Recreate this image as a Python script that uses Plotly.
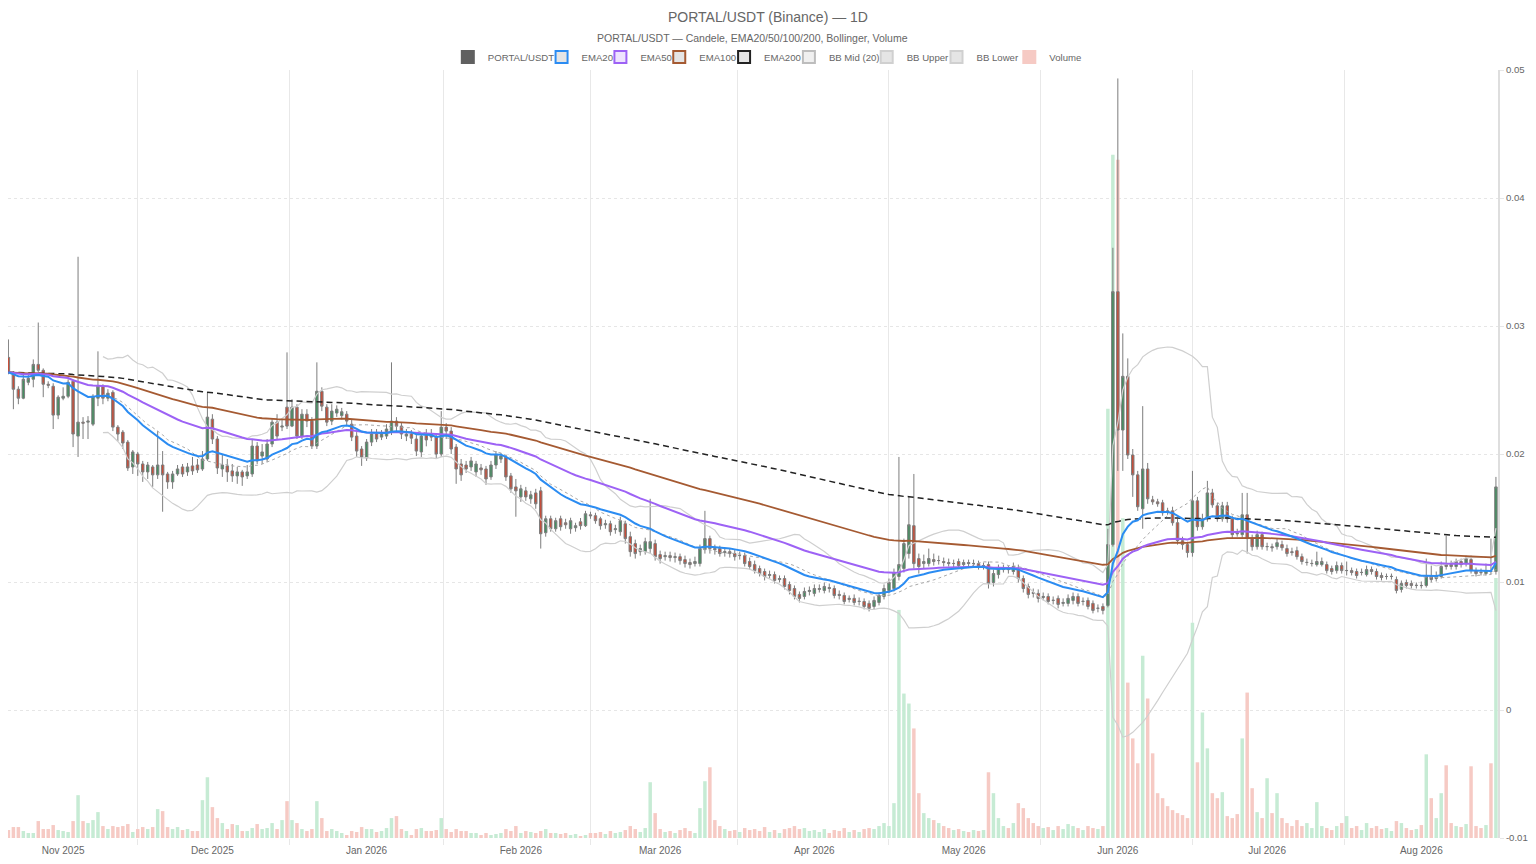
import pandas as pd
import plotly.graph_objects as go

# ---------------- data ----------------
start_date = "2025-10-21"

opens = [.02755,.02638,.02506,.02436,.02560,.02584,.02700,.02654,.02545,.02529,
.02304,.02436,.02451,.02568,.02140,.02249,.02249,.02233,.02436,.02529,
.02436,.02482,.02210,.02171,.02093,.01899,.02000,.01922,.01860,.01899,
.01837,.01914,.01844,.01782,.01844,.01899,.01860,.01907,.01914,.01883,
.01961,.02272,.02117,.01883,.01907,.01868,.01829,.01860,.01829,.01844,
.02062,.01984,.01961,.02078,.02249,.02210,.02366,.02218,.02366,.02140,
.02311,.02257,.02062,.02490,.02366,.02257,.02320,.02300,.02311,.02233,
.02140,.02039,.01969,.02093,.02156,.02132,.02140,.02171,.02257,.02218,
.02140,.02156,.02117,.02016,.02156,.02156,.02132,.02000,.02210,.02179,
.02054,.01922,.01914,.01899,.01860,.01891,.01883,.01821,.01914,.01960,
.01975,.01829,.01743,.01665,.01712,.01650,.01696,.01712,.01385,.01494,
.01416,.01494,.01463,.01416,.01424,.01470,.01440,.01525,.01518,.01494,
.01447,.01455,.01409,.01393,.01455,.01354,.01300,.01237,.01237,.01261,
.01300,.01214,.01198,.01206,.01191,.01198,.01175,.01152,.01144,.01144,
.01253,.01339,.01261,.01261,.01230,.01237,.01222,.01206,.01206,.01160,
.01136,.01105,.01082,.01051,.01058,.01019,.01027,.00981,.00949,.00903,
.00887,.00926,.00911,.00942,.00934,.00957,.00949,.00903,.00895,.00864,
.00872,.00848,.00848,.00833,.00809,.00840,.00887,.00934,.00949,.01043,
.01105,.01222,.01440,.01183,.01144,.01144,.01175,.01167,.01160,.01152,
.01144,.01160,.01136,.01152,.01144,.01144,.01121,.01136,.00996,.01058,
.01097,.01105,.01082,.01105,.01027,.00965,.00918,.00911,.00879,.00887,
.00856,.00872,.00833,.00833,.00856,.00887,.00848,.00856,.00833,.00794,
.00809,.00817,.01292,.03268,.02187,.02607,.01992,.01837,.01572,.01883,
.01642,.01626,.01619,.01556,.01556,.01463,.01323,.01292,.01230,.01634,
.01432,.01494,.01696,.01595,.01494,.01595,.01494,.01385,.01370,.01525,
.01339,.01276,.01370,.01276,.01276,.01276,.01292,.01261,.01237,.01245,
.01198,.01152,.01144,.01136,.01136,.01136,.01105,.01089,.01128,.01089,
.01089,.01082,.01074,.01058,.01097,.01082,.01051,.01043,.01043,.01019,
.00942,.00996,.00988,.00973,.00973,.00973,.01043,.01027,.01043,.01136,
.01136,.01121,.01160,.01144,.01175,.01089,.01074,.01066,.01083,.01082]

closes = [.02638,.02506,.02436,.02584,.02591,.02700,.02654,.02545,.02537,.02304,
.02444,.02451,.02560,.02156,.02249,.02241,.02257,.02451,.02529,.02436,
.02475,.02210,.02156,.02086,.01891,.02016,.01922,.01860,.01914,.01837,
.01914,.01837,.01782,.01844,.01883,.01844,.01899,.01868,.01876,.01961,
.02288,.02117,.01891,.01914,.01860,.01829,.01860,.01821,.01860,.02062,
.01946,.02016,.02078,.02249,.02140,.02218,.02218,.02366,.02140,.02311,
.02257,.02062,.02490,.02374,.02249,.02335,.02350,.02330,.02257,.02132,
.02023,.01977,.02093,.02156,.02117,.02156,.02195,.02257,.02218,.02156,
.02156,.02124,.02023,.02140,.02110,.02132,.02000,.02210,.02179,.02039,
.01883,.01837,.01883,.01946,.01922,.01876,.01805,.01914,.01992,.01984,
.01821,.01728,.01712,.01728,.01665,.01681,.01611,.01377,.01494,.01416,
.01479,.01432,.01447,.01479,.01440,.01440,.01533,.01518,.01479,.01440,
.01455,.01393,.01416,.01479,.01339,.01237,.01222,.01261,.01315,.01315,
.01198,.01183,.01206,.01191,.01198,.01167,.01144,.01136,.01160,.01261,
.01339,.01261,.01253,.01222,.01237,.01222,.01198,.01207,.01144,.01121,
.01089,.01066,.01043,.01058,.01012,.01027,.00965,.00934,.00887,.00872,
.00926,.00934,.00949,.00949,.00965,.00949,.00895,.00895,.00848,.00872,
.00840,.00849,.00809,.00794,.00856,.00895,.00949,.00996,.01074,.01136,
.01300,.01447,.01144,.01121,.01160,.01183,.01160,.01168,.01152,.01144,
.01145,.01128,.01152,.01144,.01145,.01121,.01128,.00988,.01066,.01105,
.01105,.01097,.01121,.01027,.00949,.00903,.00911,.00872,.00887,.00848,
.00857,.00825,.00840,.00872,.00887,.00833,.00849,.00809,.00778,.00795,
.00778,.01292,.03268,.02187,.02607,.01992,.01837,.01588,.01883,.01650,
.01626,.01611,.01541,.01549,.01463,.01323,.01292,.01230,.01634,.01432,
.01494,.01696,.01603,.01494,.01595,.01494,.01370,.01377,.01525,.01339,
.01276,.01370,.01276,.01277,.01268,.01307,.01268,.01222,.01230,.01198,
.01160,.01153,.01145,.01160,.01160,.01089,.01082,.01128,.01089,.01090,
.01074,.01051,.01075,.01097,.01082,.01043,.01035,.01043,.01044,.00934,
.00988,.00973,.00973,.00974,.00972,.01043,.01019,.01051,.01121,.01121,
.01121,.01160,.01136,.01183,.01089,.01066,.01073,.01089,.01082,.01743]

highs = [.02895,.02646,.02529,.02623,.02638,.02739,.03027,.02669,.02568,.02553,
.02459,.02521,.02584,.02584,.03541,.02288,.02296,.02467,.02802,.02545,
.02506,.02498,.02226,.02187,.02109,.02031,.02016,.01946,.01938,.01914,
.02179,.02023,.01860,.01868,.01914,.01922,.01930,.01977,.01961,.02023,
.02482,.02311,.02140,.02000,.01961,.01922,.01899,.01876,.01914,.02117,
.02093,.02078,.02117,.02272,.02311,.02272,.02794,.02428,.02389,.02350,
.02350,.02288,.02716,.02521,.02389,.02389,.02380,.02360,.02335,.02272,
.02171,.02062,.02117,.02195,.02195,.02187,.02233,.02716,.02288,.02249,
.02195,.02187,.02148,.02160,.02195,.02195,.02156,.02335,.02241,.02210,
.02078,.01961,.01946,.01977,.01946,.01922,.01907,.01946,.02023,.02008,
.01990,.01852,.01805,.01759,.01743,.01712,.01728,.01743,.01518,.01518,
.01502,.01518,.01494,.01502,.01463,.01500,.01556,.01549,.01541,.01510,
.01486,.01479,.01447,.01510,.01479,.01393,.01331,.01292,.01346,.01650,
.01331,.01245,.01237,.01237,.01230,.01222,.01206,.01183,.01198,.01292,
.01556,.01362,.01292,.01284,.01268,.01261,.01253,.01237,.01230,.01191,
.01167,.01128,.01105,.01089,.01082,.01051,.01051,.01004,.00973,.00926,
.00957,.00965,.00981,.00981,.00996,.00988,.00973,.00934,.00918,.00895,
.00903,.00879,.00872,.00856,.00887,.00918,.00981,.01027,.01105,.01977,
.01339,.01665,.01844,.01222,.01214,.01261,.01222,.01206,.01191,.01183,
.01175,.01183,.01175,.01175,.01175,.01167,.01152,.01160,.01097,.01136,
.01136,.01128,.01152,.01136,.01051,.00988,.00949,.00942,.00918,.00911,
.00887,.00895,.00872,.00903,.00918,.00911,.00879,.00879,.00856,.00825,
.00833,.01416,.03611,.04934,.02942,.02747,.02039,.01868,.02374,.01930,
.01673,.01650,.01642,.01580,.01588,.01494,.01354,.01315,.01868,.01665,
.01533,.01790,.01728,.01619,.01626,.01626,.01518,.01416,.01696,.01696,
.01370,.01401,.01393,.01307,.01300,.01339,.01323,.01292,.01268,.01276,
.01222,.01183,.01175,.01237,.01191,.01160,.01128,.01160,.01152,.01160,
.01113,.01105,.01105,.01128,.01121,.01105,.01074,.01066,.01066,.01043,
.01012,.01019,.01012,.00996,.01004,.01183,.01128,.01082,.01160,.01362,
.01167,.01183,.01183,.01206,.01206,.01113,.01105,.01144,.01339,.01821]

lows = [.02623,.02350,.02389,.02428,.02537,.02521,.02638,.02444,.02514,.02195,
.02272,.02420,.02436,.02054,.01977,.02117,.02117,.02218,.02374,.02389,
.02412,.02179,.02101,.02039,.01868,.01844,.01829,.01782,.01805,.01743,
.01805,.01549,.01728,.01728,.01829,.01821,.01829,.01837,.01852,.01868,
.01946,.02078,.01844,.01821,.01782,.01782,.01767,.01751,.01805,.01821,
.01922,.01922,.01938,.02054,.02117,.02179,.02195,.02210,.02117,.02117,
.02210,.02039,.02039,.02335,.02218,.02226,.02290,.02270,.02218,.02101,
.01977,.01907,.01946,.02062,.02093,.02109,.02117,.02148,.02179,.02117,
.02101,.02078,.01984,.01977,.02060,.02101,.01961,.01977,.02117,.02000,
.01767,.01790,.01852,.01868,.01821,.01837,.01759,.01798,.01883,.01930,
.01790,.01697,.01510,.01626,.01634,.01611,.01572,.01261,.01354,.01393,
.01393,.01401,.01416,.01377,.01393,.01409,.01430,.01494,.01455,.01409,
.01416,.01362,.01377,.01362,.01300,.01198,.01183,.01206,.01214,.01222,
.01167,.01144,.01167,.01160,.01152,.01136,.01113,.01105,.01121,.01121,
.01222,.01222,.01214,.01198,.01198,.01191,.01167,.01175,.01121,.01097,
.01066,.01043,.01012,.01027,.00988,.00996,.00942,.00903,.00864,.00840,
.00864,.00895,.00887,.00918,.00911,.00918,.00872,.00864,.00825,.00840,
.00817,.00817,.00786,.00770,.00786,.00817,.00864,.00911,.00926,.01012,
.01074,.01183,.01105,.01066,.01105,.01121,.01128,.01136,.01121,.01121,
.01113,.01105,.01121,.01113,.01113,.01097,.01097,.00949,.00965,.01027,
.01074,.01066,.01058,.00996,.00918,.00872,.00879,.00840,.00856,.00825,
.00825,.00794,.00809,.00809,.00825,.00809,.00817,.00786,.00755,.00763,
.00747,.00802,.01276,.01868,.01868,.01961,.01665,.01556,.01416,.01611,
.01603,.01588,.01518,.01525,.01440,.01292,.01253,.01191,.01198,.01401,
.01409,.01471,.01580,.01471,.01471,.01463,.01339,.01354,.01346,.01222,
.01245,.01253,.01253,.01245,.01237,.01253,.01245,.01198,.01206,.01175,
.01136,.01128,.01121,.01121,.01121,.01066,.01058,.01066,.01066,.01051,
.01051,.01027,.01051,.01043,.01058,.01019,.01012,.01019,.01019,.00911,
.00918,.00949,.00949,.00949,.00949,.00957,.00996,.01004,.01027,.01097,
.01097,.01097,.01113,.01121,.01066,.01043,.01051,.01051,.01058,.01058]

# relative volume (arbitrary units)
volumes = [8,11,11,7,5,5,17,9,9,13,
8,7,6,17,43,17,15,18,26,12,
9,12,11,12,14,6,9,11,9,11,
29,27,11,9,11,8,9,7,7,38,
61,31,20,15,9,14,13,7,7,10,
14,9,10,15,9,18,37,18,15,9,
7,9,37,20,7,9,7,5,3,7,
6,11,9,9,6,7,10,20,22,9,
7,3,9,10,7,7,8,20,9,6,
9,7,7,5,5,3,5,3,4,5,
9,7,12,5,7,6,5,7,9,5,
5,4,5,3,4,2,3,5,5,6,
4,7,5,6,8,12,9,6,10,56,
25,9,6,7,5,8,10,7,5,30,
57,71,18,12,9,7,8,6,10,8,
9,7,11,6,8,5,9,10,12,9,
10,7,8,6,9,5,8,7,10,6,
8,6,9,10,9,12,15,12,35,229,
145,135,110,45,25,20,18,15,12,10,
8,9,7,6,8,7,8,66,45,20,
12,10,15,35,30,20,15,12,10,11,
8,12,9,14,12,10,8,12,10,9,
12,431,686,681,321,156,100,75,183,140,
85,45,40,32,28,25,23,20,216,76,
126,90,45,40,46,22,20,24,100,146,
50,26,20,60,25,45,20,15,12,18,
12,15,10,36,12,10,8,12,15,22,
10,12,8,15,10,12,9,10,7,17,
15,10,8,9,13,84,40,20,45,73,
15,12,11,14,72,12,10,13,75,261]

month_ticks = ["2025-11-01", "2025-12-01", "2026-01-01", "2026-02-01", "2026-03-01",
               "2026-04-01", "2026-05-01", "2026-06-01", "2026-07-01", "2026-08-01"]
month_labels = ["Nov 2025", "Dec 2025", "Jan 2026", "Feb 2026", "Mar 2026",
                "Apr 2026", "May 2026", "Jun 2026", "Jul 2026", "Aug 2026"]
price_ticks = [-0.01, 0, 0.01, 0.02, 0.03, 0.04, 0.05]
price_labels = ["-0.01", "0", "0.01", "0.02", "0.03", "0.04", "0.05"]

# ---------------- indicators ----------------
dates = pd.date_range(start_date, periods=len(closes), freq="D")
cs = pd.Series(closes, index=dates)
ema = {n: cs.ewm(span=n, adjust=False).mean() for n in (20, 50, 100, 200)}
bb_mid = cs.rolling(20).mean()
bb_sd = cs.rolling(20).std(ddof=0)
bb_up = bb_mid + 2 * bb_sd
bb_lo = bb_mid - 2 * bb_sd

# grid lines sit between month labels (offset grid)
mstarts = pd.date_range("2025-10-01", "2026-09-01", freq="MS")
grid_mid = [mstarts[i] + (mstarts[i + 1] - mstarts[i]) / 2 for i in range(len(mstarts) - 1)]

x_range = [dates[0] - pd.Timedelta(hours=2), dates[-1] + pd.Timedelta(hours=10)]

# ---------------- figure geometry ----------------
# the page body keeps its default 8px margin, so the figure is sized to fit
# inside the 1536x864 window without overflow; OFF converts page px to figure px
OFF = 8
W, H = 1536 - 2 * OFF, 864 - 2 * OFF
ML, MR, MT, MB = 0, 26, 62, 15
PW = W - ML - MR
PH = H - MT - MB


def px_x(page_x):
    return (page_x - OFF - ML) / PW


def px_y(page_y):
    return 1 + (MT + OFF - page_y) / PH


GREEN_BODY = "#458f61"
RED_BODY = "#c64e3a"
WICK = "#7d7d7d"
VOL_UP = "#c6ebd4"
VOL_DN = "#f6cac4"
FONT = "Liberation Sans, Arial, Helvetica, sans-serif"

vol_colors = [VOL_UP if c >= o else VOL_DN for o, c in zip(opens, closes)]

fig = go.Figure()

# legend-only entries (box style swatches), one small legend per entry
legend_items = [
    ("PORTAL/USDT", "g_candle", "#606060", "#606060", 472),
    ("EMA20", "g_e20", "rgba(0,0,0,0.1)", "#2b8cf2", 566),
    ("EMA50", "g_e50", "rgba(160,100,250,0.18)", "#9d62f5", 625),
    ("EMA100", "g_e100", "rgba(0,0,0,0.1)", "#a55a32", 684),
    ("EMA200", "g_e200", "rgba(0,0,0,0.1)", "#222222", 749),
    ("BB Mid (20)", "g_bbm", "rgba(0,0,0,0.06)", "#bdbdbd", 814),
    ("BB Upper", "g_bbu", "rgba(0,0,0,0.1)", "#d0d0d0", 892),
    ("BB Lower", "g_bbl", "rgba(0,0,0,0.1)", "#d0d0d0", 962),
    ("Volume", "g_vol", VOL_DN, VOL_DN, 1035),
]
legend_layout = {}
for k, (name, grp, fillc, linec, icon_cx) in enumerate(legend_items):
    lname = "legend" if k == 0 else f"legend{k + 1}"
    fig.add_trace(go.Bar(x=[None], y=[None], name=name, legendgroup=grp, legend=lname,
                         marker=dict(color=fillc, line=dict(color=linec, width=2)),
                         xaxis="x", yaxis="y", hoverinfo="skip"))
    legend_layout[lname] = dict(
        orientation="h", x=px_x(icon_cx - 3 - 20), xanchor="left",
        y=px_y(57), yanchor="middle", itemwidth=30,
        font=dict(family=FONT, size=9.6, color="#666666"),
        bgcolor="rgba(0,0,0,0)", borderwidth=0)

# volume (behind everything)
fig.add_trace(go.Bar(x=dates, y=volumes, marker=dict(color=vol_colors, line=dict(width=0)),
                     name="Volume", legendgroup="g_vol", showlegend=False,
                     xaxis="x", yaxis="y"))

# helper trace so the grid-only overlay axis is drawn
fig.add_trace(go.Scatter(x=[None], y=[None], xaxis="x2", yaxis="y", showlegend=False,
                         hoverinfo="skip"))

# Bollinger bands
fig.add_trace(go.Scatter(x=dates, y=bb_up, mode="lines", name="BB Upper", legendgroup="g_bbu",
                         showlegend=False, line=dict(color="#cfcfcf", width=1.2),
                         xaxis="x", yaxis="y2"))
fig.add_trace(go.Scatter(x=dates, y=bb_lo, mode="lines", name="BB Lower", legendgroup="g_bbl",
                         showlegend=False, line=dict(color="#cfcfcf", width=1.2),
                         xaxis="x", yaxis="y2"))
fig.add_trace(go.Scatter(x=dates, y=bb_mid, mode="lines", name="BB Mid (20)", legendgroup="g_bbm",
                         showlegend=False, line=dict(color="#a8a8a8", width=1, dash="3px,3px"),
                         xaxis="x", yaxis="y2"))

# EMAs
fig.add_trace(go.Scatter(x=dates, y=ema[200], mode="lines", name="EMA200", legendgroup="g_e200",
                         showlegend=False, line=dict(color="#222222", width=1.5, dash="6px,4px"),
                         xaxis="x", yaxis="y2"))
fig.add_trace(go.Scatter(x=dates, y=ema[100], mode="lines", name="EMA100", legendgroup="g_e100",
                         showlegend=False, line=dict(color="#a55a32", width=1.8),
                         xaxis="x", yaxis="y2"))
fig.add_trace(go.Scatter(x=dates, y=ema[50], mode="lines", name="EMA50", legendgroup="g_e50",
                         showlegend=False, line=dict(color="#9d62f5", width=2),
                         xaxis="x", yaxis="y2"))
fig.add_trace(go.Scatter(x=dates, y=ema[20], mode="lines", name="EMA20", legendgroup="g_e20",
                         showlegend=False, line=dict(color="#2b8cf2", width=2),
                         xaxis="x", yaxis="y2"))

# candles
fig.add_trace(go.Candlestick(
    x=dates, open=opens, high=highs, low=lows, close=closes,
    name="PORTAL/USDT", legendgroup="g_candle", showlegend=False,
    increasing=dict(fillcolor=GREEN_BODY, line=dict(color=WICK, width=1)),
    decreasing=dict(fillcolor=RED_BODY, line=dict(color=WICK, width=1)),
    xaxis="x", yaxis="y2"))

fig.update_layout(
    width=W, height=H,
    margin=dict(l=ML, r=MR, t=MT, b=MB),
    paper_bgcolor="white", plot_bgcolor="white",
    font=dict(family=FONT, size=10, color="#666666"),
    barmode="overlay", bargap=0.3,
    showlegend=True,
    title=dict(text="PORTAL/USDT (Binance) — 1D", x=0.5, xref="container", xanchor="center",
               y=1 - (17 - OFF) / H, yref="container", yanchor="middle",
               font=dict(family=FONT, size=14, color="#666666")),
    annotations=[dict(text="PORTAL/USDT — Candele, EMA20/50/100/200, Bollinger, Volume",
                      xref="paper", yref="paper", x=px_x(754), y=px_y(38),
                      xanchor="center", yanchor="middle", showarrow=False,
                      font=dict(family=FONT, size=10.5, color="#666666"))],
    xaxis=dict(type="date", range=x_range, tickvals=month_ticks, ticktext=month_labels,
               showgrid=False, zeroline=False, showline=False, ticks="outside", ticklen=3,
               tickcolor="rgba(0,0,0,0)", rangeslider=dict(visible=False),
               tickfont=dict(family=FONT, size=10, color="#666666")),
    xaxis2=dict(type="date", overlaying="x", anchor="y", side="bottom", range=x_range,
                tickvals=grid_mid, showticklabels=False, showgrid=True, gridcolor="#e8e8e8",
                gridwidth=1, zeroline=False, ticks="outside", ticklen=6, tickcolor="#e8e8e8"),
    yaxis=dict(range=[0, PH], showticklabels=False, showgrid=False, zeroline=False,
               showline=True, linecolor="#e8e8e8", linewidth=1, ticks="", fixedrange=True),
    yaxis2=dict(overlaying="y", side="right", anchor="x", range=[-0.01, 0.05],
                tickvals=price_ticks, ticktext=price_labels, showgrid=True, gridcolor="#e6e6e6",
                griddash="dot", gridwidth=1, zeroline=False, showline=True, linecolor="#dedede",
                linewidth=2, ticks="outside", ticklen=4, tickcolor="#e6e6e6",
                tickfont=dict(family=FONT, size=9.6, color="#666666")),
    **legend_layout,
)

fig.write_html("out.html", config={"displayModeBar": False})
